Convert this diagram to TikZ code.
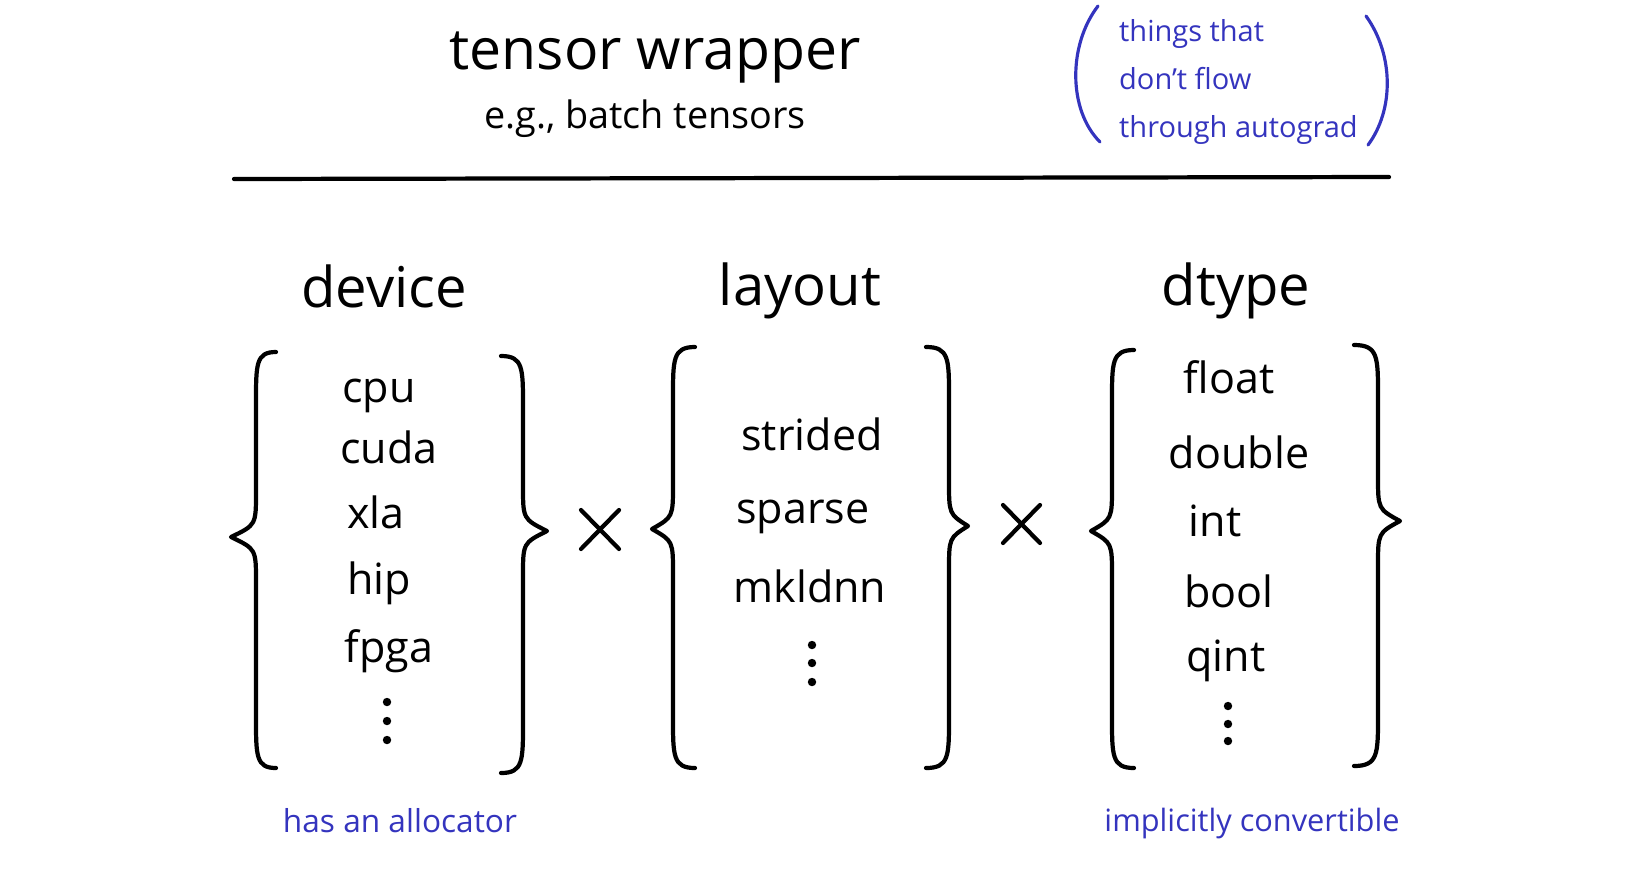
\documentclass[tikz,border=0pt]{standalone}
\usepackage{fontspec}
\setmainfont{Open Sans}
\definecolor{penblue}{RGB}{52,52,190}
\tikzset{
  hand/.style={line width=2.4pt, line cap=round, line join=round},
  heading/.style={font=\fontsize{32}{36}\selectfont},
  item/.style={font=\fontsize{24.5}{28}\selectfont},
  note/.style={text=penblue, font=\fontsize{18}{21}\selectfont},
  dot/.style={fill, circle, inner sep=0pt, minimum size=4.8pt}
}
% #1 end x, #2 stem x, #3 tip x, #4 top y, #5 tip y, #6 bottom y
\newcommand{\curlbrace}[6]{%
  \draw[hand] (#1, #4) .. controls (#2, #4) and (#2, #4+12) .. (#2, #4+50)
    -- (#2, #5-45) .. controls (#2, #5-12) .. (#3, #5)
    .. controls (#2, #5+12) .. (#2, #5+45)
    -- (#2, #6-50) .. controls (#2, #6-12) and (#2, #6) .. (#1, #6);}
\begin{document}
\begin{tikzpicture}[x=0.02cm, y=-0.02cm]
      \useasboundingbox (0,0) rectangle (1650,870);
      % title
      \node (title) at (655, 58) {\fontsize{32.5}{36}\selectfont tensor wrapper};
      \node (sub) at (645, 119) {\fontsize{21.5}{24}\selectfont e.g., batch tensors};
      \draw[hand] (234, 179) -- (1389, 177);
      % side remark
      \node[note, anchor=west, align=left, font=\fontsize{16.5}{27.5}\selectfont] (aside) at (1113, 82)
        {things that\\ don't flow\\ through autograd};
      \draw[hand, penblue, line width=1.8pt] (1098, 6) .. controls (1068, 45) and (1068, 110) .. (1100, 142);
      \draw[hand, penblue, line width=1.8pt] (1366, 16) .. controls (1394, 55) and (1394, 110) .. (1368, 145);
      % headings
      \node[heading] (device) at (384, 286) {device};
      \node[heading] (layout) at (800, 291) {layout};
      \node[heading] (dtype) at (1236, 291) {dtype};
      % device
      \curlbrace{276}{256}{231}{352}{537}{768}
      \curlbrace{501}{523}{547}{356}{531}{773}
      \node[item] (cpu) at (379, 396) {cpu};
      \node[item] (cuda) at (389, 447) {cuda};
      \node[item] (xla) at (376, 512) {xla};
      \node[item] (hip) at (379, 583) {hip};
      \node[item] (fpga) at (389, 651) {fpga};
      \node[dot] (d1) at (387, 702) {};
      \node[dot] (d2) at (387, 721) {};
      \node[dot] (d3) at (387, 740) {};
      % times
      \draw[hand] (581, 510) -- (619, 549);
      \draw[hand] (619, 510) -- (581, 549);
      % layout
      \curlbrace{695}{673}{652}{347}{529}{768}
      \curlbrace{926}{949}{968}{347}{526}{768}
      \node[item] (strided) at (812, 434) {strided};
      \node[item] (sparse) at (803, 517) {sparse};
      \node[item] (mkldnn) at (810, 586) {mkldnn};
      \node[dot] (l1) at (812, 645) {};
      \node[dot] (l2) at (812, 663) {};
      \node[dot] (l3) at (812, 682) {};
      % times
      \draw[hand] (1003, 505) -- (1040, 543);
      \draw[hand] (1040, 505) -- (1003, 543);
      % dtype
      \curlbrace{1134}{1112}{1091}{350}{531}{768}
      \curlbrace{1354}{1378}{1400}{345}{521}{766}
      \node[item] (float) at (1229, 377) {float};
      \node[item] (double) at (1239, 452) {double};
      \node[item] (int) at (1215, 521) {int};
      \node[item] (bool) at (1229, 591) {bool};
      \node[item] (qint) at (1226, 661) {qint};
      \node[dot] (t1) at (1228, 706) {};
      \node[dot] (t2) at (1228, 724) {};
      \node[dot] (t3) at (1228, 741) {};
      % notes below
      \node[note] (alloc) at (400, 821) {has an allocator};
      \node[note, font=\fontsize{17.5}{21}\selectfont] (conv) at (1252, 823) {implicitly convertible};
\end{tikzpicture}
\end{document}
